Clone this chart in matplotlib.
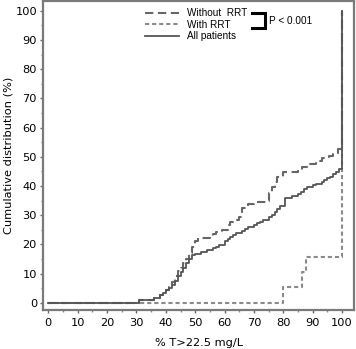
import matplotlib
matplotlib.use("Agg")
import matplotlib.pyplot as plt

plt.rcParams['font.family'] = ['DejaVu Sans']

# === DATA ===
x_all = [0, 31, 36, 38, 39, 40, 41, 42, 43, 44, 45, 46, 47, 48, 49, 50, 52, 54,
         56, 57, 58, 60, 61, 62, 63, 64, 66, 67, 68, 70, 71, 72, 73, 75, 76, 77,
         78, 79, 80.5, 83, 85, 86, 87, 88, 90, 91, 93, 94, 95, 96, 97, 98, 99, 100]
y_all = [0, 1.0, 1.5, 2.5, 3.5, 4.3, 5, 6, 7.5, 9, 10.5, 12, 13.5, 15, 16.3, 16.8,
         17.4, 18, 18.6, 19.2, 19.8, 21, 21.8, 22.5, 23.2, 24, 24.6, 25.2, 25.8,
         26.5, 27.2, 27.8, 28.5, 29.3, 30, 31, 32, 33, 36, 36.6, 37.3, 38, 38.8,
         39.5, 40.2, 40.8, 41.5, 42, 42.6, 43.2, 44, 44.7, 45.8, 100]

x_without = [0, 31, 36, 38, 39, 40, 41, 42, 43, 44, 45, 46, 47, 48, 49, 50, 51,
             55, 56, 57, 59, 61, 62, 64, 65, 66, 68, 70, 74, 75, 76, 77, 78, 80,
             85, 86.5, 89, 91, 93, 95.5, 97, 98.5, 99.5, 100]
y_without = [0, 1.0, 1.5, 2.5, 3.5, 4.5, 5.5, 7, 9, 11, 12, 13.5, 15, 17, 19, 21,
             22, 22.5, 23.5, 24.2, 25, 26.5, 27.5, 28.5, 29.5, 32.5, 33.9, 34.5,
             35, 37.5, 39.5, 41.5, 43, 44.7, 45.5, 46.5, 47.5, 48.7, 49.5, 50.4,
             51, 52.5, 53.3, 100]

x_with = [0, 80, 86.5, 87.8, 100]
y_with = [0, 5.3, 10.5, 15.8, 100]

x_ticks = list(range(0, 101, 10))
y_ticks = list(range(0, 101, 10))

# === PLOT ===
fig = plt.figure(figsize=(3.56, 3.49), dpi=100)
ax = fig.add_axes([0.1216, 0.1117, 0.8724, 0.885])

ax.plot(x_without, y_without, drawstyle='steps-post', color='#666666',
        lw=1.5, dashes=(4, 2.2), label='Without  RRT', zorder=3)
ax.plot(x_with, y_with, drawstyle='steps-post', color='#8a8a8a',
        lw=1.5, dashes=(2, 1.4), label='With RRT', zorder=2)
ax.plot(x_all, y_all, drawstyle='steps-post', color='#555555',
        lw=1.3, label='All patients', zorder=4)

ax.set_xlim(-1.7, 104)
ax.set_ylim(-2.5, 103.3)
ax.set_xticks(x_ticks)
ax.set_yticks(y_ticks)
ax.set_xticks(range(5, 101, 10), minor=True)
ax.set_yticks(range(5, 101, 10), minor=True)
ax.tick_params(which='major', direction='out', length=2.5, width=1,
               color='#666666', labelsize=8.2, pad=2)
ax.tick_params(which='minor', direction='out', length=1.5, width=1,
               color='#888888')
ax.tick_params(axis='x', pad=3.5)

for s in ax.spines.values():
    s.set_color('#7a7a7a')
    s.set_linewidth(1.6)

ax.set_xlabel('% T>22.5 mg/L', fontsize=8.2)
ax.set_ylabel('Cumulative distribution (%)', fontsize=8.2)
ax.xaxis.set_label_coords(0.5, -0.107)
ax.yaxis.set_label_coords(-0.112, 0.5)
ax.xaxis.label.set_va('center')
ax.yaxis.label.set_va('center')

leg = ax.legend(loc='upper left', bbox_to_anchor=(0.305, 1.0), frameon=False,
                prop={'family': 'Liberation Sans', 'size': 7.2},
                handlelength=3.4, handletextpad=0.8,
                labelspacing=0.15, borderaxespad=0.3)

# bracket and p-value
ax.plot([0.672, 0.714, 0.714, 0.672], [0.961, 0.961, 0.913, 0.913],
        transform=ax.transAxes, color='black', lw=2.2, clip_on=False,
        solid_joinstyle='miter')
ax.text(0.727, 0.936, 'P < 0.001', transform=ax.transAxes, fontsize=7.2,
        family='Liberation Sans', va='center', ha='left')

fig.savefig('out.png', dpi=100)
